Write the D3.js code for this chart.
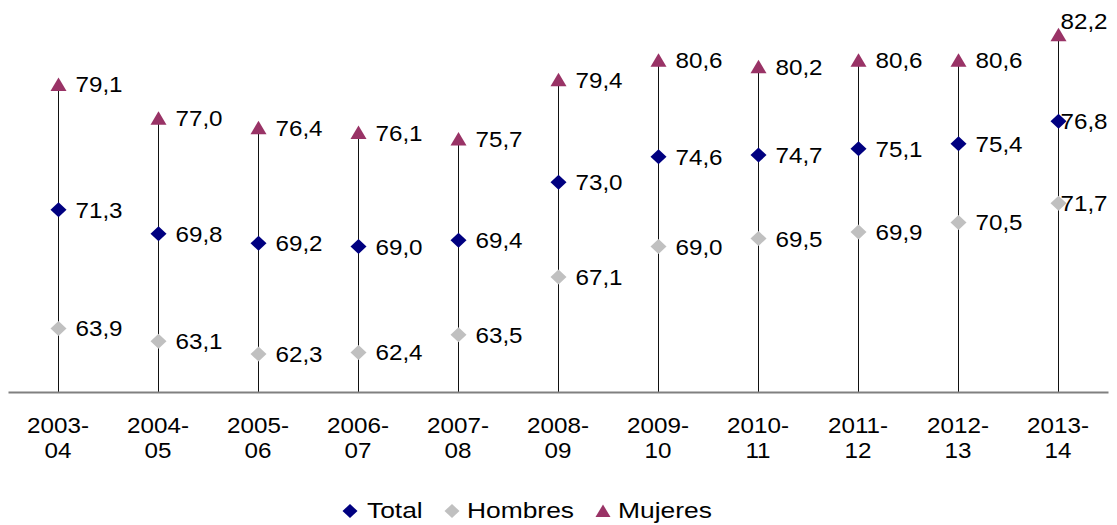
<!DOCTYPE html>
<html><head><meta charset="utf-8">
<script src="https://cdn.jsdelivr.net/npm/d3@7"></script>
<style>
html,body{margin:0;padding:0;background:#fff;}
svg{display:block;font-family:"Liberation Sans",Arial,sans-serif;}
</style></head>
<body>
<svg id="chart" width="1117" height="525"></svg>
<script>
const categories = ["2003-04","2004-05","2005-06","2006-07","2007-08","2008-09","2009-10","2010-11","2011-12","2012-13","2013-14"];
const total   = [71.3,69.8,69.2,69.0,69.4,73.0,74.6,74.7,75.1,75.4,76.8];
const hombres = [63.9,63.1,62.3,62.4,63.5,67.1,69.0,69.5,69.9,70.5,71.7];
const mujeres = [79.1,77.0,76.4,76.1,75.7,79.4,80.6,80.2,80.6,80.6,82.2];
const seriesNames = ["Total","Hombres","Mujeres"];
const yDomain = [60, 84];

const colors = {Total:"#000080", Hombres:"#C0C0C0", Mujeres:"#993366"};
const shapes = {Total:"diamond", Hombres:"diamond", Mujeres:"triangle"};
const svg = d3.select("#chart");
const x = d3.scaleBand().domain(categories).range([8,1108]);
const y = d3.scaleLinear().domain(yDomain).range([391,5.8]);
const axisY = 392;
const cx = c => Math.round(x(c) + x.bandwidth()/2) + 0.5;
const fmt = v => d3.format(".1f")(v).replace(".", ",");
const SX = 1.1, FS = 22;

function shapePath(kind){
  if(kind==="diamond") return "M0,-7.5L8,0L0,7.5L-8,0Z";
  return "M0,-7L8,6.5L-8,6.5Z";
}

// vertical high-low lines
svg.append("g").selectAll("line").data(categories).join("line")
  .attr("x1", c=>cx(c)).attr("x2", c=>cx(c))
  .attr("y1", axisY).attr("y2", (c,i)=>y(mujeres[i]))
  .attr("stroke","#111").attr("stroke-width",1);

// x axis
const axis = d3.axisBottom(x).tickSize(0).tickFormat("");
const ax = svg.append("g").attr("transform",`translate(0,${axisY})`).call(axis);
ax.select(".domain").attr("stroke","#808080").attr("stroke-width",2);
ax.selectAll(".tick").each(function(c){
  const g = d3.select(this);
  g.selectAll("text").remove();
  const parts = c.split("-");
  g.append("text").attr("transform",`translate(0,41) scale(${SX},1)`)
    .attr("text-anchor","middle").attr("font-size",FS).attr("fill","#000").text(parts[0]+"-");
  g.append("text").attr("transform",`translate(0,66) scale(${SX},1)`)
    .attr("text-anchor","middle").attr("font-size",FS).attr("fill","#000").text(parts[1]);
});

// markers & labels
const data = {Total: total, Hombres: hombres, Mujeres: mujeres};
const last = categories.length-1;
seriesNames.forEach(name=>{
  const vals = data[name];
  const g = svg.append("g");
  g.selectAll("path").data(vals).join("path")
    .attr("d", shapePath(shapes[name]))
    .attr("transform",(v,i)=>`translate(${cx(categories[i])},${y(v)})`)
    .attr("fill", colors[name]);
  g.selectAll("text").data(vals).join("text")
    .attr("transform",(v,i)=>{
      let dx = 17, dy = 8;
      if(i===last){ dx = 2; if(name==="Mujeres") dy = -6; }
      return `translate(${cx(categories[i])+dx},${y(v)+dy}) scale(${SX},1)`;
    })
    .attr("font-size",FS).attr("fill","#000").text(v=>fmt(v));
});

// legend
const legendItems = [
  {name:"Total", mx:350, tx:367},
  {name:"Hombres", mx:452, tx:467},
  {name:"Mujeres", mx:603, tx:618}
];
const lg = svg.append("g");
legendItems.forEach(it=>{
  lg.append("path").attr("d", shapes[it.name]==="diamond" ? "M0,-7L7.5,0L0,7L-7.5,0Z" : "M0,-6.5L7.5,6L-7.5,6Z")
    .attr("transform",`translate(${it.mx},511)`).attr("fill",colors[it.name]);
  lg.append("text").attr("transform",`translate(${it.tx},518) scale(1.2,1)`)
    .attr("font-size",22).attr("fill","#000").text(it.name);
});
</script>
</body></html>
